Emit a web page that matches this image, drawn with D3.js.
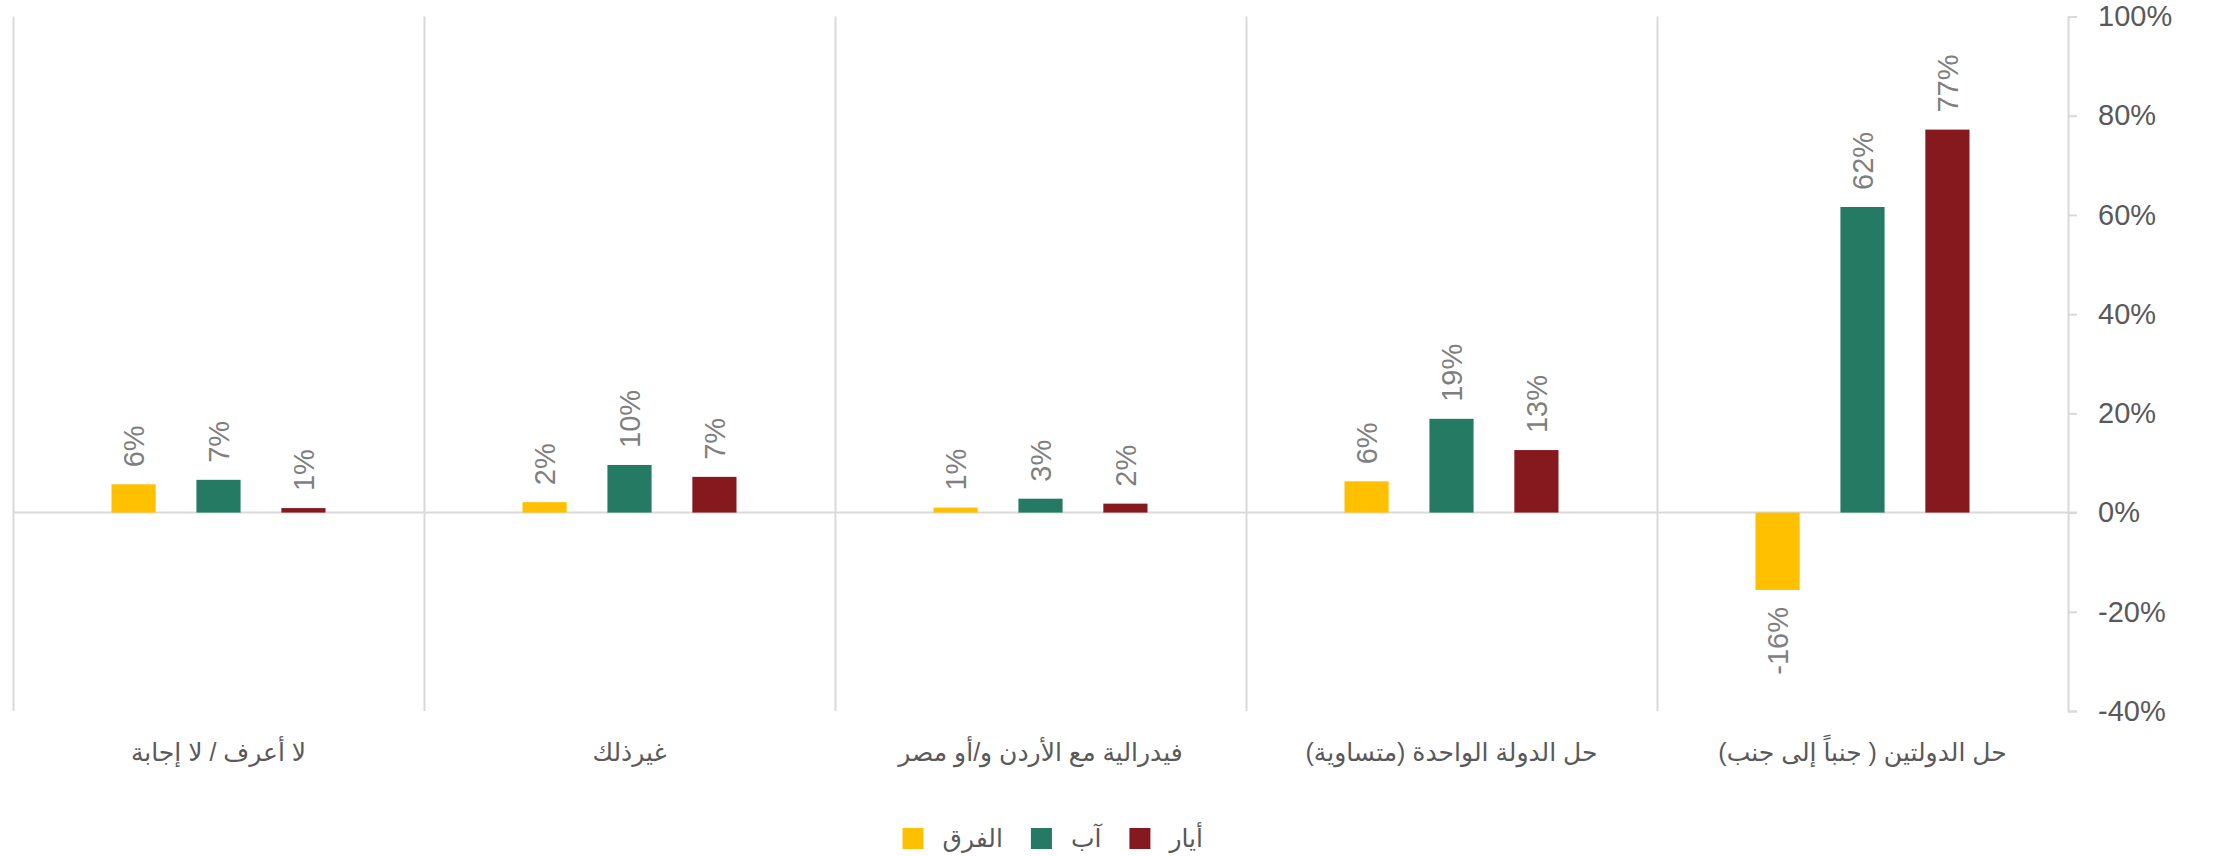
<!DOCTYPE html>
<html lang="ar">
<head>
<meta charset="utf-8">
<script src="https://cdn.jsdelivr.net/npm/d3@7"></script>
<style>
    body { margin: 0; background: #fff; }
    text { font-family: Arial, "Liberation Sans", "DejaVu Sans", sans-serif; }
</style>
</head>
<body>
<div id="chart"></div>
<script>
// categories from right to left (first one sits next to the axis)
const categories = [
    "حل الدولتين ( جنباً إلى جنب)",
    "حل الدولة الواحدة (متساوية)",
    "فيدرالية مع الأردن و/أو مصر",
    "غيرذلك",
    "لا أعرف / لا إجابة"
];
const seriesNames = ["الفرق", "آب", "أيار"];   // left to right inside a group
const diffValues = [-0.156, 0.063, 0.010, 0.021, 0.057];
const augValues  = [0.616, 0.189, 0.028, 0.096, 0.066];
const mayValues  = [0.772, 0.126, 0.018, 0.072, 0.009];
const yTicks = [-0.4, -0.2, 0, 0.2, 0.4, 0.6, 0.8, 1];

const colors = { "الفرق": "#FFC000", "آب": "#247A62", "أيار": "#85191E" };
const legendOrder = ["أيار", "آب", "الفرق"];  // right to left

const width = 2219;
const height = 856;
const pct = d => Math.round(d * 100) + "%";

const svg = d3.select("#chart").append("svg")
    .attr("width", width)
    .attr("height", height);

const x0 = d3.scaleBand()
    .domain(categories)
    .range([2068, 13]);

const x1 = d3.scaleBand()
    .domain(seriesNames)
    .range([0, x0.bandwidth()])
    .paddingInner(0.48)
    .paddingOuter(1.16);

const y = d3.scaleLinear()
    .domain([-0.4, 1])
    .range([711, 16.5]);

const rows = categories.map((c, i) => ({
    category: c,
    values: [
        { key: "الفرق", value: diffValues[i] },
        { key: "آب", value: augValues[i] },
        { key: "أيار", value: mayValues[i] }
    ]
}));

// group separators
svg.append("g")
    .selectAll("line")
    .data(categories)
    .enter().append("line")
    .attr("x1", d => x0(d) + 0.5)
    .attr("x2", d => x0(d) + 0.5)
    .attr("y1", y(1))
    .attr("y2", y(-0.4))
    .attr("stroke", "#d9d9d9")
    .attr("stroke-width", 2);

// zero line
svg.append("line")
    .attr("x1", 13)
    .attr("x2", 2077)
    .attr("y1", y(0))
    .attr("y2", y(0))
    .attr("stroke", "#d9d9d9")
    .attr("stroke-width", 2);

// right axis
const axis = svg.append("g")
    .attr("transform", `translate(${x0.range()[0]},0)`)
    .call(d3.axisRight(y)
        .tickValues(yTicks)
        .tickFormat(pct)
        .tickSize(9)
        .tickPadding(21));
axis.select(".domain").attr("stroke", "#d9d9d9").attr("stroke-width", 2);
axis.selectAll(".tick line").attr("stroke", "#d9d9d9").attr("stroke-width", 2);
axis.selectAll(".tick text")
    .attr("fill", "#595959")
    .attr("font-size", 29)
    .attr("font-family", "Arial, 'Liberation Sans', sans-serif");

// bars
const groups = svg.append("g")
    .selectAll("g")
    .data(rows)
    .enter().append("g")
    .attr("transform", d => `translate(${x0(d.category)},0)`);

groups.selectAll("rect")
    .data(d => d.values)
    .enter().append("rect")
    .attr("x", d => x1(d.key))
    .attr("width", x1.bandwidth())
    .attr("y", d => y(Math.max(0, d.value)))
    .attr("height", d => Math.abs(y(d.value) - y(0)))
    .attr("fill", d => colors[d.key]);

groups.selectAll("text")
    .data(d => d.values)
    .enter().append("text")
    .attr("transform", d => {
        const cx = x1(d.key) + x1.bandwidth() / 2;
        const cy = d.value >= 0 ? y(d.value) - 17 : y(d.value) + 17;
        return `translate(${cx},${cy}) rotate(-90)`;
    })
    .attr("dy", "0.36em")
    .attr("text-anchor", d => d.value >= 0 ? "start" : "end")
    .attr("font-size", 29)
    .attr("fill", "#7f7f7f")
    .text(d => pct(d.value));

// category labels
svg.append("g")
    .selectAll("text")
    .data(categories)
    .enter().append("text")
    .attr("x", d => x0(d) + x0.bandwidth() / 2)
    .attr("y", 752)
    .attr("dy", "0.35em")
    .attr("text-anchor", "middle")
    .attr("direction", "rtl")
    .attr("font-size", 25)
    .attr("fill", "#595959")
    .text(d => d);

// legend, laid out from the right
const legend = svg.append("g");
let cursor = 1203;
legendOrder.forEach(name => {
    const t = legend.append("text")
        .attr("x", cursor)
        .attr("y", 838)
        .attr("dy", "0.35em")
        .attr("text-anchor", "end")
        .attr("font-size", 25)
        .attr("fill", "#595959")
        .text(name);
    const w = t.node().getComputedTextLength();
    legend.append("rect")
        .attr("x", cursor - w - 19 - 21)
        .attr("y", 828)
        .attr("width", 21)
        .attr("height", 21)
        .attr("fill", colors[name]);
    cursor = cursor - w - 19 - 21 - 28;
});
</script>
</body>
</html>
